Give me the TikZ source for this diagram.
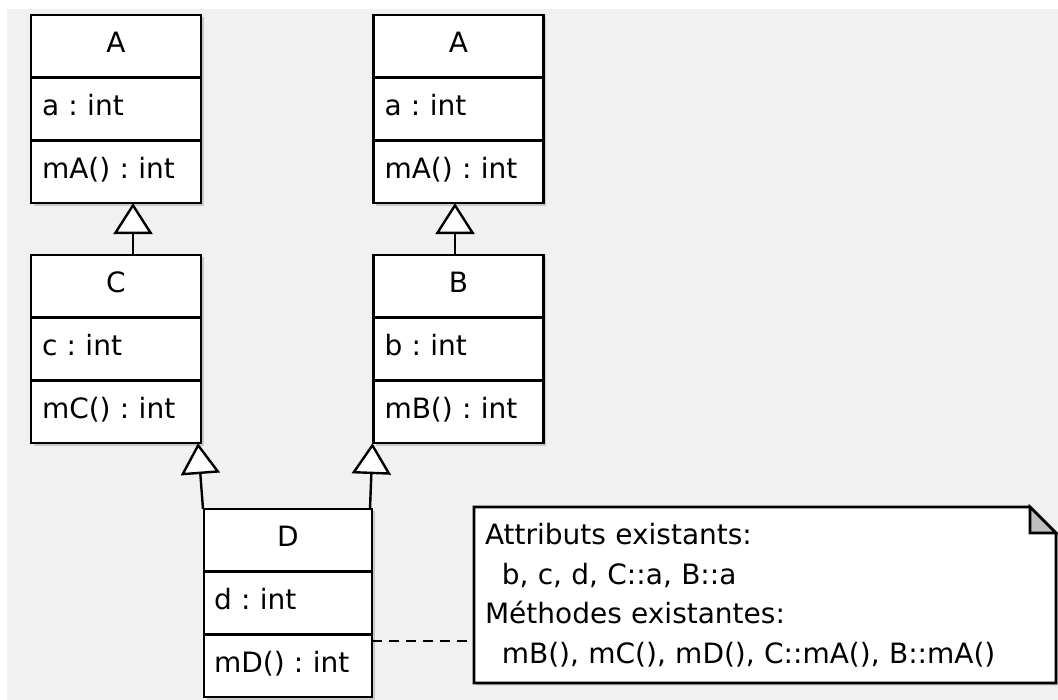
\documentclass[tikz,border=0pt]{standalone}
\usepackage{fontspec}
\setmainfont{DejaVu Sans}
\usetikzlibrary{positioning, arrows.meta, shadows, backgrounds}

\begin{document}
\frenchspacing
\begin{tikzpicture}[
  x=1pt, y=1pt,
  every node/.style={font=\fontsize{28}{39.5}\selectfont, outer sep=0pt},
  part/.style={draw, line width=2.6pt, fill=white, minimum width=170pt, minimum height=62.7pt,
    inner sep=0pt, text height=19pt, text depth=6pt},
  head/.style={part, align=center},
  field/.style={part, text width=148pt, align=left},
  boxshadow/.style={drop shadow={opacity=0.35, shadow xshift=2.5pt, shadow yshift=-2.5pt}},
  isa/.style={line width=2.4pt, -{Triangle[length=31pt, width=39pt, fill=white, line width=2.4pt]}}
]
% canvas
\useasboundingbox (0,0) rectangle (1058,700);
\begin{scope}[on background layer]
  \fill[white] (0,0) rectangle (1058,700);
  \fill[black!5.5] (7,0) rectangle (1058,691);
\end{scope}

% Left column: A above C
\node[head, anchor=north, boxshadow] (aLeftName) at (116,685) {A};
\node[field, below=0pt of aLeftName, boxshadow] (aLeftAttr) {a : int};
\node[field, below=0pt of aLeftAttr, boxshadow] (aLeftOps) {mA() : int};

\node[head, anchor=north, boxshadow] (cName) at (116,445) {C};
\node[field, below=0pt of cName, boxshadow] (cAttr) {c : int};
\node[field, below=0pt of cAttr, boxshadow] (cOps) {mC() : int};

% Right column: A above B
\node[head, anchor=north, boxshadow] (aRightName) at (458.5,685) {A};
\node[field, below=0pt of aRightName, boxshadow] (aRightAttr) {a : int};
\node[field, below=0pt of aRightAttr, boxshadow] (aRightOps) {mA() : int};

\node[head, anchor=north, boxshadow] (bName) at (458.5,445) {B};
\node[field, below=0pt of bName, boxshadow] (bAttr) {b : int};
\node[field, below=0pt of bAttr, boxshadow] (bOps) {mB() : int};

% D at the bottom
\node[head, anchor=north, minimum width=168pt, boxshadow] (dName) at (288,191) {D};
\node[field, minimum width=168pt, below=0pt of dName, boxshadow] (dAttr) {d : int};
\node[field, minimum width=168pt, below=0pt of dAttr, boxshadow] (dOps) {mD() : int};

% inheritance
\draw[isa] ([xshift=17pt]cName.north) -- ([xshift=17pt]aLeftOps.south);
\draw[isa] ([xshift=-3.5pt]bName.north) -- ([xshift=-3.5pt]aRightOps.south);
\draw[isa] ([xshift=-1pt]dName.north west) -- ([xshift=-3pt]cOps.south east);
\draw[isa] ([xshift=-2pt]dName.north east) -- ([xshift=-1pt]bOps.south west);

% note with folded corner
\node[anchor=north west, minimum width=582pt, minimum height=176pt, inner sep=0pt,
  text width=560pt, align=left] (note) at (474,193)
  {Attributs existants:\\
   \hspace*{0.6em}b, c, d, C::a, B::a\\
   Méthodes existantes:\\
   \hspace*{0.6em}mB(), mC(), mD(), C::mA(), B::mA()};
\begin{scope}[on background layer]
  \draw[line width=2.6pt, fill=white, boxshadow]
    (note.south west) -- (note.north west) -- ([xshift=-26pt]note.north east)
    -- ([yshift=-26pt]note.north east) -- (note.south east) -- cycle;
\end{scope}
\draw[line width=2.6pt, fill=black!25]
  ([xshift=-26pt]note.north east) -- ([xshift=-26pt, yshift=-26pt]note.north east)
  -- ([yshift=-26pt]note.north east) -- cycle;

% anchor link
\draw[line width=2pt, dash pattern=on 10pt off 7pt]
  ([yshift=25pt]dOps.east) -- ([yshift=25pt]dOps.east -| note.west);
\end{tikzpicture}
\end{document}
